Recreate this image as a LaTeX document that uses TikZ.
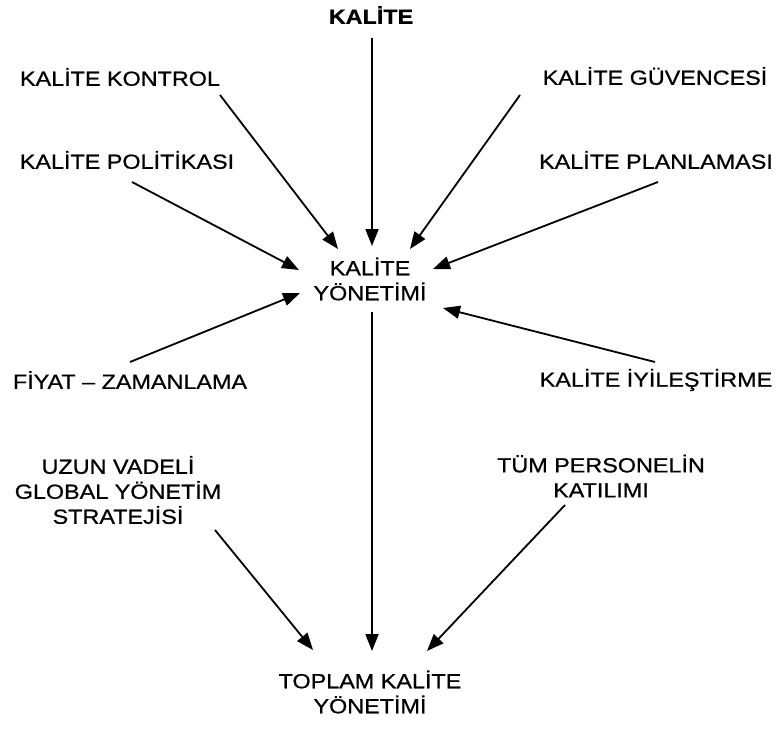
\documentclass[tikz,border=0pt]{standalone}
\usepackage{fontspec}
\setmainfont{Liberation Sans}[FakeStretch=1.14, FakeBold=0.7]
\usetikzlibrary{arrows.meta}
\begin{document}
\begin{tikzpicture}[x=1pt,y=-1pt,
  lbl/.style={font=\fontsize{20.5}{25}\selectfont, align=center, inner sep=0pt},
  arr/.style={line width=1.8pt, -{Triangle[length=17pt,width=13pt]}}]
\useasboundingbox (0,0) rectangle (784,733);
% labels
\node[lbl, font=\fontsize{20.5}{25}\selectfont\bfseries] (kal) at (371,15) {KALİTE};
\node[lbl] (kon) at (120,77) {KALİTE KONTROL};
\node[lbl] (guv) at (655,76) {KALİTE GÜVENCESİ};
\node[lbl] (pol) at (127,160) {KALİTE POLİTİKASI};
\node[lbl] (pla) at (656,160) {KALİTE PLANLAMASI};
\node[lbl] (ky) at (370,279) {KALİTE\\YÖNETİMİ};
\node[lbl] (fiy) at (130,380) {FİYAT – ZAMANLAMA};
\node[lbl] (iyi) at (656,380) {KALİTE İYİLEŞTİRME};
\node[lbl] (uzu) at (118,490) {UZUN VADELİ\\GLOBAL YÖNETİM\\STRATEJİSİ};
\node[lbl] (tum) at (601,476) {TÜM PERSONELİN\\KATILIMI};
\node[lbl] (tkm) at (370,692) {TOPLAM KALİTE\\YÖNETİMİ};
% connector end points
\coordinate (kalS) at (372,38);   \coordinate (kalT) at (372,246);
\coordinate (konS) at (220,95);   \coordinate (konT) at (338,249);
\coordinate (guvS) at (520,95);   \coordinate (guvT) at (410,249);
\coordinate (polS) at (132,182);  \coordinate (polT) at (299,270);
\coordinate (plaS) at (658,182);  \coordinate (plaT) at (433,269);
\coordinate (fiyS) at (130,362);  \coordinate (fiyT) at (300,293);
\coordinate (iyiS) at (655,362);  \coordinate (iyiT) at (443,308);
\coordinate (kyS)  at (372,312);  \coordinate (kyT)  at (372,651);
\coordinate (uzuS) at (215,530);  \coordinate (uzuT) at (313,650);
\coordinate (tumS) at (565,505);  \coordinate (tumT) at (427,651);
% connectors
\draw[arr] (kalS) -- (kalT);
\draw[arr] (konS) -- (konT);
\draw[arr] (guvS) -- (guvT);
\draw[arr] (polS) -- (polT);
\draw[arr] (plaS) -- (plaT);
\draw[arr] (fiyS) -- (fiyT);
\draw[arr] (iyiS) -- (iyiT);
\draw[arr] (kyS) -- (kyT);
\draw[arr] (uzuS) -- (uzuT);
\draw[arr] (tumS) -- (tumT);
\end{tikzpicture}
\end{document}
